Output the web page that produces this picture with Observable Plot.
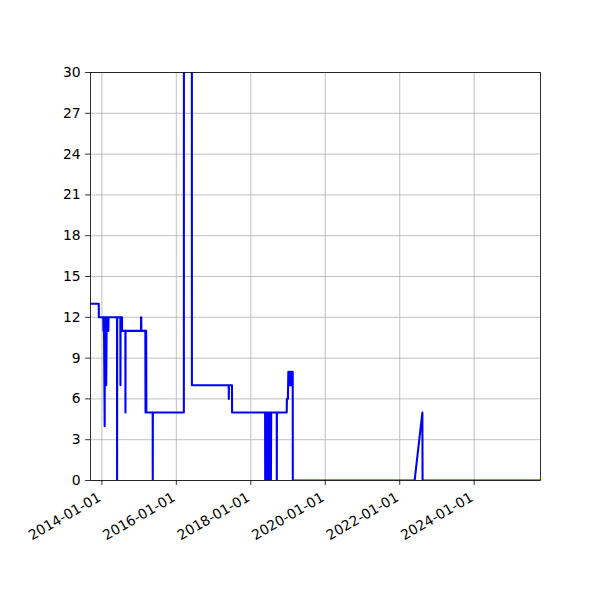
<!DOCTYPE html>
<html>
<head>
<meta charset="utf-8">
<script src="https://cdn.jsdelivr.net/npm/d3@7"></script>
<script src="https://cdn.jsdelivr.net/npm/@observablehq/plot@0.6"></script>
<style>
  html, body { margin: 0; padding: 0; background: #fff; }
  #chart { width: 600px; height: 600px; }
  svg { font-family: "DejaVu Sans", sans-serif; color: #000; }
</style>
</head>
<body>
<div id="chart"></div>
<script>
// Observed dates (x) and values (y) of the series
const dates = [
  "2013-09-11","2013-12-01","2013-12-02","2014-01-14","2014-01-16","2014-01-20","2014-01-22",
  "2014-01-28","2014-01-30","2014-02-01","2014-02-05","2014-02-08","2014-02-12","2014-02-17",
  "2014-02-19","2014-02-21","2014-02-25","2014-03-01","2014-03-05","2014-03-07","2014-05-29",
  "2014-05-30","2014-05-31","2014-07-01","2014-07-02","2014-07-03","2014-07-17","2014-07-18",
  "2014-08-19","2014-08-20","2014-08-21","2015-01-19","2015-01-20","2015-01-22","2015-01-23",
  "2015-03-03","2015-03-05","2015-03-07","2015-03-09","2015-03-11","2015-03-13","2015-03-14",
  "2015-05-14","2015-05-15","2015-05-16","2016-03-15","2016-03-16","2016-06-01","2016-06-02",
  "2017-05-29","2017-05-30","2017-05-31","2017-06-30","2017-07-01","2018-05-21",
  "2018-05-22","2018-05-26","2018-05-30","2018-06-03","2018-06-07","2018-06-11","2018-06-15",
  "2018-06-19","2018-06-23","2018-06-27","2018-07-01","2018-07-05","2018-07-09","2018-07-13",
  "2018-07-17","2018-07-20","2018-09-12","2018-09-13","2018-09-14","2018-12-19","2018-12-21",
  "2018-12-31","2019-01-04","2019-01-09","2019-01-13","2019-01-18","2019-01-22","2019-01-27",
  "2019-02-01","2019-02-05","2019-02-16","2019-02-17","2022-05-27","2022-08-11","2022-08-13",
  "2025-10-13"
];
const values = [
  13,13,12,12,11,12,11,
  4,12,11,12,11,7,12,
  11,12,11,12,11,12,12,
  0,12,12,7,12,12,11,
  11,5,11,11,12,12,11,
  11,5,11,5,11,5,5,
  5,0,5,5,60,60,7,
  7,6,7,7,5,5,
  0,5,0,5,0,5,0,
  5,0,5,0,5,0,5,
  0,5,5,0,5,5,6,
  6,8,7,8,7,8,7,
  8,7,8,0,0,5,0,
  0
];
const xDomain = ["2013-09-11", "2025-10-13"];
const xTicks = ["2014-01-01","2016-01-01","2018-01-01","2020-01-01","2022-01-01","2024-01-01"];
const yTicks = [0,3,6,9,12,15,18,21,24,27,30];

const parse = d3.utcParse("%Y-%m-%d");
const data = dates.map((d, i) => ({date: parse(d), value: values[i]}));

const chart = Plot.plot({
  width: 600,
  height: 600,
  marginLeft: 90,
  marginRight: 60,
  marginTop: 72,
  marginBottom: 120,
  style: {fontFamily: "DejaVu Sans, sans-serif", fontSize: "13.9px", color: "#000", background: "#fff"},
  x: {type: "utc", domain: xDomain.map(parse)},
  y: {domain: [0, 30]},
  marks: [
    Plot.gridX(xTicks.map(parse), {stroke: "#b0b0b0", strokeOpacity: 1, strokeWidth: 0.8}),
    Plot.gridY(yTicks, {stroke: "#b0b0b0", strokeOpacity: 1, strokeWidth: 0.8}),
    Plot.line(data, {x: "date", y: "value", stroke: "#0000ff", strokeWidth: 2.08, clip: true, curve: "linear"}),
    Plot.frame({stroke: "#000", strokeWidth: 0.8}),
    Plot.axisY(yTicks, {tickSize: 4.9, tickPadding: 4.9, fontSize: 13.9, label: null, tickFormat: d => String(d), strokeWidth: 0.8}),
    Plot.axisX(xTicks.map(parse), {tickSize: 4.9, label: null, tickFormat: () => "", strokeWidth: 0.8}),
    Plot.text(xTicks, {x: d => parse(d), frameAnchor: "bottom", text: d => d, rotate: -30,
      textAnchor: "end", lineAnchor: "top", dx: -5, dy: 11, fontSize: 13.9, fill: "#000"})
  ]
});
document.getElementById("chart").appendChild(chart);
</script>
</body>
</html>
